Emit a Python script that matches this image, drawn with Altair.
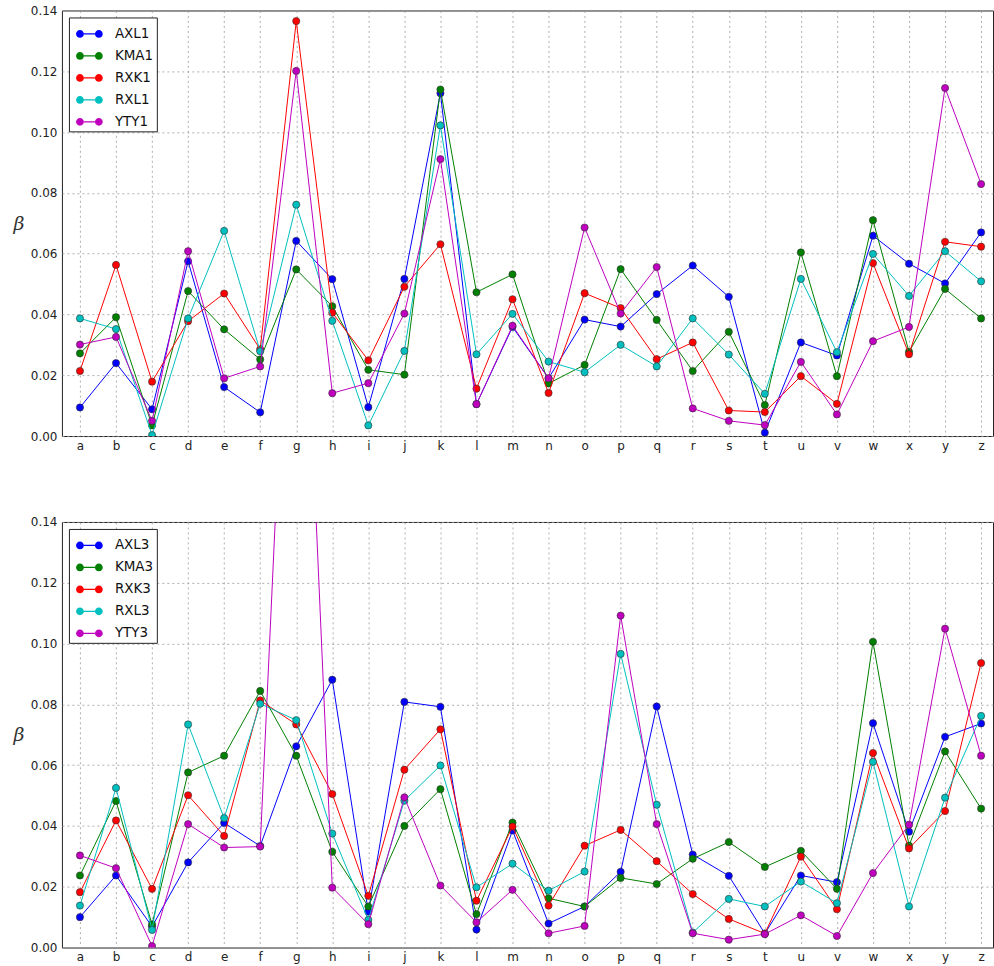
import altair as alt
import pandas as pd

categories = list("abcdefghijklmnopqrstuvwxyz")

top_names = ["AXL1", "KMA1", "RXK1", "RXL1", "YTY1"]
AXL1 = [0.0094,0.0240,0.0088,0.0575,0.0161,0.0078,0.0642,0.0516,0.0095,0.0517,0.1128,0.0105,0.0359,0.0190,0.0383,0.0360,0.0467,0.0561,0.0458,0.0011,0.0308,0.0265,0.0659,0.0567,0.0502,0.0670]
KMA1 = [0.0272,0.0391,0.0035,0.0477,0.0351,0.0252,0.0548,0.0427,0.0218,0.0202,0.1140,0.0473,0.0532,0.0173,0.0234,0.0549,0.0382,0.0214,0.0343,0.0102,0.0604,0.0197,0.0710,0.0277,0.0484,0.0387]
RXK1 = [0.0214,0.0563,0.0179,0.0378,0.0469,0.0285,0.1365,0.0406,0.0249,0.0491,0.0631,0.0156,0.0450,0.0142,0.0470,0.0421,0.0253,0.0308,0.0084,0.0079,0.0197,0.0106,0.0569,0.0269,0.0639,0.0623]
RXL1 = [0.0387,0.0352,0.0003,0.0387,0.0675,0.0279,0.0761,0.0379,0.0035,0.0280,0.1022,0.0269,0.0402,0.0245,0.0210,0.0300,0.0229,0.0387,0.0268,0.0139,0.0517,0.0276,0.0599,0.0461,0.0608,0.0509]
YTY1 = [0.0301,0.0326,0.0050,0.0608,0.0190,0.0229,0.1201,0.0141,0.0174,0.0403,0.0911,0.0105,0.0363,0.0190,0.0686,0.0403,0.0556,0.0091,0.0050,0.0036,0.0244,0.0071,0.0312,0.0359,0.1145,0.0829]

bottom_names = ["AXL3", "KMA3", "RXK3", "RXL3", "YTY3"]
AXL3 = [0.0100,0.0237,0.0069,0.0280,0.0410,0.0334,0.0662,0.0881,0.0118,0.0808,0.0792,0.0059,0.0385,0.0079,0.0135,0.0249,0.0793,0.0306,0.0236,0.0046,0.0237,0.0215,0.0738,0.0381,0.0693,0.0737]
KMA3 = [0.0237,0.0482,0.0076,0.0576,0.0631,0.0844,0.0631,0.0315,0.0135,0.0400,0.0521,0.0110,0.0411,0.0162,0.0135,0.0229,0.0209,0.0292,0.0347,0.0265,0.0318,0.0193,0.1006,0.0335,0.0645,0.0457]
RXK3 = [0.0182,0.0418,0.0193,0.0501,0.0367,0.0813,0.0734,0.0505,0.0170,0.0585,0.0718,0.0154,0.0398,0.0138,0.0335,0.0387,0.0284,0.0176,0.0094,0.0046,0.0299,0.0126,0.0640,0.0326,0.0449,0.0936]
RXL3 = [0.0138,0.0525,0.0058,0.0734,0.0426,0.0802,0.0748,0.0375,0.0091,0.0483,0.0599,0.0198,0.0276,0.0187,0.0250,0.0966,0.0470,0.0049,0.0160,0.0135,0.0217,0.0146,0.0611,0.0135,0.0493,0.0762]
YTY3 = [0.0303,0.0261,0.0005,0.0406,0.0329,0.0332,0.2900,0.0197,0.0077,0.0494,0.0204,0.0083,0.0190,0.0047,0.0071,0.1092,0.0406,0.0047,0.0026,0.0044,0.0106,0.0038,0.0245,0.0404,0.1049,0.0631]

y_ticks = [0.0, 0.02, 0.04, 0.06, 0.08, 0.10, 0.12, 0.14]
colors = ["#0000ff", "#008000", "#ff0000", "#00bfbf", "#bf00bf"]

LEGEND_PATH = ("M-0.41,-0.045L0.41,-0.045L0.41,0.045L-0.41,0.045Z "
               "M-0.41,0A0.29,0.29 0 1,1 -0.99,0A0.29,0.29 0 1,1 -0.41,0Z "
               "M0.99,0A0.29,0.29 0 1,1 0.41,0A0.29,0.29 0 1,1 0.99,0Z")

label_expr = "[" + ",".join("'%s'" % c for c in categories) + "][datum.value]"


def make_df(names, series):
    rows = []
    for name, vals in zip(names, series):
        for i, (c, v) in enumerate(zip(categories, vals)):
            rows.append({"idx": i, "cat": c, "series": name, "value": v})
    return pd.DataFrame(rows)


def panel(names, series):
    df = make_df(names, series)
    base = alt.Chart(df)
    x = alt.X("idx:Q",
              scale=alt.Scale(domain=[-0.5, 25.33], nice=False, zero=False),
              axis=alt.Axis(values=list(range(len(categories))), labelExpr=label_expr,
                            title=None, labelPadding=4))
    y = alt.Y("value:Q",
              scale=alt.Scale(domain=[0, 0.14], nice=False, zero=True),
              axis=alt.Axis(values=y_ticks, format=".2f", title="β",
                            titleAngle=0, titleAlign="left", titleBaseline="middle",
                            titleX=-49, titleY=213, titleFont="DejaVu Serif",
                            titleFontStyle="italic", titleFontSize=19,
                            titleFontWeight="normal", titleColor="#333",
                            labelPadding=5))
    cscale = alt.Scale(domain=names, range=colors)
    legend = alt.Legend(title=None, orient="top-left", offset=7,
                        symbolType=LEGEND_PATH, symbolSize=729,
                        symbolStrokeWidth=0, symbolOffset=4,
                        labelFont="DejaVu Sans", labelFontSize=13.5,
                        labelColor="#111", labelOffset=12,
                        padding=3, strokeColor="#222", fillColor="white",
                        cornerRadius=0, rowPadding=2)
    layers = []
    for s in names:
        b = base.transform_filter(alt.datum.series == s)
        layers.append(b.mark_line(strokeWidth=1, clip=True).encode(
            x=x, y=y, color=alt.Color("series:N", scale=cscale, legend=legend)))
        layers.append(b.mark_circle(size=52, stroke="#333", strokeWidth=0.6,
                                    opacity=1, clip=True).encode(
            x=x, y=y, fill=alt.Fill("series:N", scale=cscale, legend=None)))
    return alt.layer(*layers).properties(width=932, height=426)


top = panel(top_names, [AXL1, KMA1, RXK1, RXL1, YTY1])
bottom = panel(bottom_names, [AXL3, KMA3, RXK3, RXL3, YTY3])

chart = (
    alt.vconcat(top, bottom, spacing=86, bounds="flush")
    .resolve_scale(fill="independent", color="independent")
    .resolve_legend(color="independent")
    .properties(padding={"left": 12, "top": 3, "right": 0, "bottom": 0})
    .configure_view(stroke="#222", strokeWidth=1)
    .configure_axis(grid=True, gridColor="#9a9a9a", gridDash=[2, 3], gridWidth=0.8,
                    domain=False, ticks=False, labelFont="DejaVu Sans",
                    labelFontSize=12, labelColor="#222")
)

chart.save("out.html", embed_options={"renderer": "svg", "actions": False})
